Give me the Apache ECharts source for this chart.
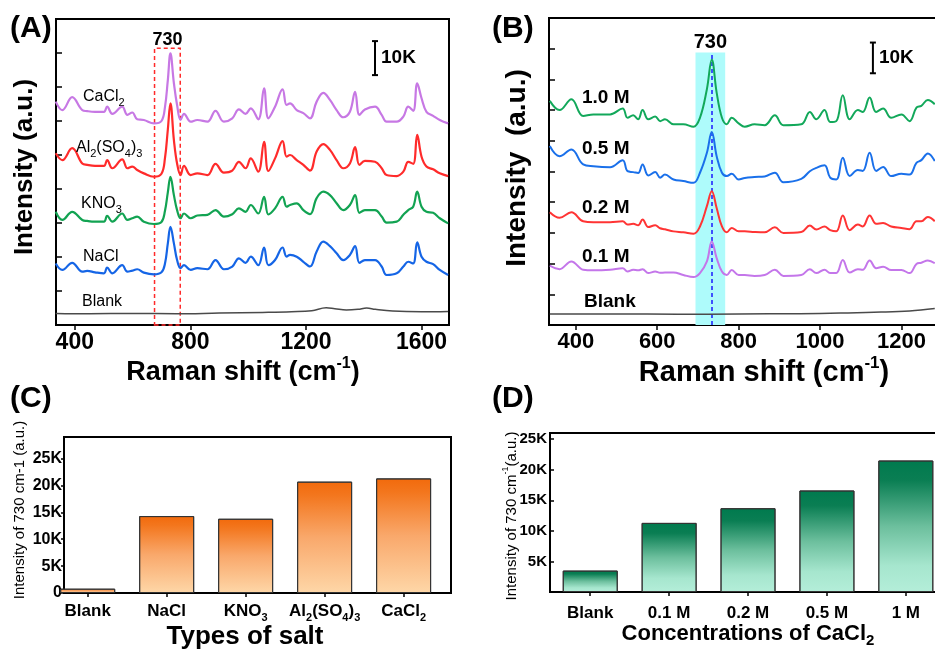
<!DOCTYPE html>
<html>
<head>
<meta charset="utf-8">
<script src="https://cdn.jsdelivr.net/npm/echarts@6/dist/echarts.min.js"></script>
<style>
html, body { margin: 0; padding: 0; background: #fff; }
#main { width: 935px; height: 653px; }
</style>
</head>
<body>
<div id="main"></div>
<script>
// (A) spectra of the different salts, intensities in K counts
const ramanA = [334, 357, 391, 426, 443, 470, 501, 512, 530, 564, 582, 599, 616, 639, 674, 700, 712, 722, 731, 743,
    754, 766, 778, 801, 824, 859, 887, 916, 945, 968, 991, 1009, 1035, 1055, 1070, 1093, 1119, 1133, 1145, 1168,
    1191, 1214, 1237, 1260, 1283, 1306, 1329, 1352, 1370, 1385, 1404, 1439, 1462, 1479, 1514, 1537, 1554, 1571, 1585, 1600,
    1617, 1640, 1663, 1692];
const naclA = [18.1, 16.2, 18.3, 15.7, 15.9, 15.5, 15.2, 16.9, 15.2, 17.6, 15.7, 16.0, 16.4, 15.4, 14.9, 15.5, 18.0, 24.0, 28.9, 24.0,
    19.1, 16.7, 17.6, 16.2, 16.7, 16.4, 19.1, 16.4, 17.2, 19.6, 18.3, 20.1, 17.6, 22.8, 17.6, 19.1, 22.8, 20.1, 20.6, 20.1,
    18.6, 17.2, 21.6, 24.5, 23.2, 21.1, 19.1, 20.6, 23.2, 18.3, 19.1, 19.1, 17.2, 14.7, 15.2, 17.2, 18.6, 18.1, 24.3, 20.1,
    18.6, 17.9, 16.2, 14.7];
const kno3A = [33.3, 30.9, 33.3, 30.9, 30.6, 30.4, 30.4, 32.1, 30.4, 32.8, 30.9, 31.4, 31.9, 30.4, 29.7, 30.3, 33.5, 39.0, 43.6, 38.2,
    33.8, 31.4, 32.8, 31.4, 32.2, 32.4, 33.8, 31.9, 32.6, 34.3, 33.3, 35.3, 32.8, 37.7, 32.5, 34.3, 37.7, 34.8, 35.3, 35.8,
    33.8, 32.6, 37.3, 39.2, 38.2, 35.8, 33.8, 35.3, 38.2, 33.0, 33.8, 33.8, 31.9, 30.1, 30.4, 32.4, 33.8, 34.8, 39.2, 34.8,
    33.3, 33.0, 31.4, 29.9];
const alsoA = [50.5, 48.5, 52.0, 47.5, 47.1, 46.8, 46.8, 48.5, 46.1, 48.7, 46.1, 46.6, 45.6, 44.6, 43.6, 44.5, 49.0, 57.5, 65.2, 54.4,
    47.5, 44.1, 46.8, 44.1, 44.6, 44.1, 47.4, 44.8, 45.4, 48.0, 46.1, 49.0, 45.1, 53.9, 45.3, 49.0, 54.1, 49.5, 50.0, 48.5,
    47.1, 45.4, 51.0, 53.2, 51.5, 48.5, 46.1, 47.5, 52.3, 47.1, 48.3, 48.0, 46.1, 44.1, 43.8, 45.1, 48.0, 47.4, 55.9, 49.5,
    46.6, 45.8, 44.6, 43.8];
const cacl2A = [65.7, 63.2, 67.0, 63.2, 62.9, 62.7, 62.7, 64.2, 62.1, 64.2, 61.8, 62.5, 60.5, 60.3, 59.3, 60.0, 64.0, 72.0, 79.9, 71.1,
    64.7, 60.3, 62.1, 59.8, 60.3, 59.8, 63.0, 59.8, 60.8, 63.4, 62.1, 63.7, 60.5, 69.6, 60.8, 64.2, 69.3, 64.7, 65.2, 63.2,
    62.3, 60.8, 65.7, 68.3, 66.2, 63.2, 61.1, 62.7, 68.6, 61.8, 63.4, 64.2, 61.8, 59.8, 59.8, 61.3, 64.2, 63.0, 71.1, 66.7,
    62.7, 61.5, 60.3, 59.3];
const blankShiftA = [334, 450, 600, 750, 900, 1050, 1150, 1220, 1270, 1300, 1340, 1380, 1410, 1440, 1500, 1600, 1692];
const blankA = [3.4, 3.3, 3.4, 3.3, 3.5, 3.7, 3.9, 4.2, 5.1, 4.8, 4.4, 4.6, 5.0, 4.6, 4.1, 3.9, 4.0];

// (B) spectra for the CaCl2 concentrations
const ramanB = [336, 360, 389, 418, 443, 484, 515, 527, 541, 553, 564, 578, 595, 607, 619, 640, 664, 689, 705, 722,
    734, 746, 759, 771, 783, 800, 815, 839, 864, 889, 910, 954, 975, 991, 1011, 1025, 1040, 1056, 1073, 1093,
    1105, 1122, 1138, 1155, 1175, 1200, 1220, 1237, 1249, 1265, 1282];
const m10B = [73.0, 70.0, 73.5, 68.1, 68.6, 68.6, 70.5, 67.5, 68.3, 67.0, 70.0, 67.0, 67.9, 66.4, 67.0, 65.4, 65.4, 64.6, 67.5, 76.8,
    86.4, 75.7, 67.5, 65.4, 67.5, 65.7, 64.6, 65.4, 65.1, 68.3, 65.1, 65.4, 69.4, 67.0, 70.0, 66.1, 66.4, 74.8, 67.0, 70.0,
    69.4, 74.1, 69.4, 70.5, 67.5, 68.6, 66.4, 70.8, 71.4, 73.3, 71.9];
const m05B = [58.3, 55.0, 57.2, 52.3, 51.7, 51.4, 53.7, 50.1, 49.8, 49.5, 52.3, 48.7, 49.8, 48.0, 49.0, 47.4, 46.9, 46.3, 49.6, 56.1,
    62.9, 55.0, 49.6, 48.5, 49.3, 47.4, 47.9, 48.2, 48.4, 49.6, 46.5, 47.6, 50.1, 51.2, 52.0, 48.0, 47.4, 54.5, 48.5, 50.5,
    50.2, 56.1, 50.2, 51.5, 48.5, 49.3, 49.0, 52.8, 53.7, 55.9, 53.4];
const m02B = [36.7, 34.9, 36.7, 33.8, 33.5, 33.5, 33.8, 32.7, 33.0, 32.5, 34.4, 31.9, 32.5, 31.5, 31.2, 30.5, 30.2, 29.7, 32.1, 38.7,
    43.6, 38.1, 32.1, 30.2, 31.6, 30.5, 30.5, 30.3, 30.2, 31.8, 30.0, 30.3, 32.4, 31.1, 32.1, 30.9, 30.5, 35.7, 30.9, 32.7,
    32.1, 35.7, 33.0, 33.2, 32.1, 31.6, 31.2, 33.8, 33.8, 35.2, 33.8];
const m01B = [19.3, 18.2, 20.7, 18.0, 17.8, 18.0, 18.5, 17.4, 18.0, 17.8, 18.2, 16.9, 17.4, 17.0, 17.1, 17.1, 16.3, 15.6, 16.9, 20.7,
    27.2, 21.8, 17.4, 16.3, 17.9, 16.3, 16.3, 16.0, 16.3, 18.0, 16.0, 16.3, 18.2, 16.9, 18.0, 16.9, 16.9, 21.2, 17.1, 18.2,
    18.0, 21.0, 18.5, 19.0, 17.9, 17.9, 16.9, 19.9, 20.3, 21.0, 20.1];
const blankShiftB = [336, 500, 650, 800, 950, 1050, 1150, 1220, 1282];
const blankB = [3.6, 3.6, 3.5, 3.6, 3.7, 3.9, 4.2, 4.6, 5.4];

// (C) and (D) 730 cm-1 intensities
const saltNames = ['Blank', 'NaCl', 'KNO3', 'Al2(SO4)3', 'CaCl2'];
const saltPeak = [0.8, 14.3, 13.8, 20.7, 21.3];
const concNames = ['Blank', '0.1 M', '0.2 M', '0.5 M', '1 M'];
const concPeak = [3.5, 11.3, 13.7, 16.6, 21.5];

const FONT = '"Liberation Sans", Arial, sans-serif';

function pairs(xs, ys) {
    return xs.map((x, i) => [x, ys[i]]);
}

// digits of a formula become subscript tokens
function chem(s, m, d) {
    return s.replace(/(\D+)|(\d+)/g, (t, a, b) => a ? '{' + m + '|' + a + '}' : '{' + d + '|' + b + '}');
}

function richFor(size, weight) {
    return {
        m: { fontSize: size, fontWeight: weight, fontFamily: FONT, color: '#000', lineHeight: size + 7 },
        d: { fontSize: Math.round(size * 0.66), fontWeight: weight, fontFamily: FONT, color: '#000',
             lineHeight: Math.round(size * 0.66), verticalAlign: 'bottom' },
        u: { fontSize: Math.round(size * 0.6), fontWeight: weight, fontFamily: FONT, color: '#000',
             lineHeight: Math.round(size * 0.6), verticalAlign: 'top' }
    };
}

function txt(x, y, text, size, opts) {
    opts = opts || {};
    const weight = opts.weight || 'normal';
    const rich = richFor(size, weight);
    if (opts.color) {
        rich.m.color = opts.color; rich.d.color = opts.color; rich.u.color = opts.color;
    }
    return {
        type: 'text', x: x, y: y, rotation: opts.rot || 0, silent: true, z: 20,
        style: {
            text: text, rich: rich,
            textAlign: opts.align || 'left', textVerticalAlign: 'middle'
        }
    };
}

function lineSeries(name, xs, ys, xi, color, width) {
    return {
        name: name, type: 'line', xAxisIndex: xi, yAxisIndex: xi,
        data: pairs(xs, ys), showSymbol: false, smooth: 0.4, z: 5,
        lineStyle: { color: color, width: width }
    };
}

function barGradient(stops) {
    return new echarts.graphic.LinearGradient(0, 0, 0, 1, stops.map(c => ({ offset: c[0], color: c[1] })));
}

const axisLine = { show: true, onZero: false, lineStyle: { color: '#000', width: 2 } };
const gridBox = { show: true, borderColor: '#000', borderWidth: 2, outerBoundsMode: 'none', containLabel: false };
const plainNum = v => String(v);

var dom = document.getElementById('main');
var myChart = echarts.init(dom, null, { renderer: 'canvas' });

var option = {
    animation: false,
    backgroundColor: '#fff',
    grid: [
        Object.assign({ left: 56, top: 19, width: 393, height: 306 }, gridBox),
        Object.assign({ left: 549, top: 18, width: 400, height: 307 }, gridBox),
        Object.assign({ left: 64, top: 437, width: 387, height: 156 }, gridBox),
        Object.assign({ left: 550, top: 433, width: 400, height: 159 }, gridBox)
    ],
    xAxis: [
        {
            type: 'value', gridIndex: 0, min: 335, max: 1695, axisLine: axisLine, splitLine: { show: false },
            axisTick: { customValues: [400, 800, 1200, 1600], length: 5, lineStyle: { width: 1.5, color: '#000' } },
            axisLabel: { customValues: [400, 800, 1200, 1600], formatter: plainNum, fontSize: 23, fontWeight: 'bold', color: '#000', fontFamily: FONT, margin: 6 }
        },
        {
            type: 'value', gridIndex: 1, min: 334, max: 1317, axisLine: axisLine, splitLine: { show: false },
            axisTick: { customValues: [400, 600, 800, 1000, 1200], length: 5, lineStyle: { width: 1.5, color: '#000' } },
            axisLabel: { customValues: [400, 600, 800, 1000, 1200], formatter: plainNum, fontSize: 22, fontWeight: 'bold', color: '#000', fontFamily: FONT, margin: 6 }
        },
        {
            type: 'value', gridIndex: 2, min: -0.3, max: 4.6, axisLine: axisLine, splitLine: { show: false },
            axisTick: { customValues: [0, 1, 2, 3, 4], length: 4, lineStyle: { width: 1.5, color: '#000' } },
            axisLabel: {
                customValues: [0, 1, 2, 3, 4], margin: 6,
                formatter: v => chem(saltNames[Math.round(v)], 'm', 'd'),
                rich: richFor(17, 'bold')
            }
        },
        {
            type: 'value', gridIndex: 3, min: -0.51, max: 4.56, axisLine: axisLine, splitLine: { show: false },
            axisTick: { customValues: [0, 1, 2, 3, 4], length: 4, lineStyle: { width: 1.5, color: '#000' } },
            axisLabel: {
                customValues: [0, 1, 2, 3, 4], margin: 9,
                formatter: v => '{m|' + concNames[Math.round(v)] + '}',
                rich: richFor(17, 'bold')
            }
        }
    ],
    yAxis: [
        {
            type: 'value', gridIndex: 0, min: 0, max: 90, interval: 10, axisLine: axisLine, splitLine: { show: false },
            axisTick: { inside: true, length: 6, lineStyle: { width: 1.5, color: '#000' } }, axisLabel: { show: false }
        },
        {
            type: 'value', gridIndex: 1, min: 0, max: 100, interval: 10, axisLine: axisLine, splitLine: { show: false },
            axisTick: { inside: true, length: 6, lineStyle: { width: 1.5, color: '#000' } }, axisLabel: { show: false }
        },
        {
            type: 'value', gridIndex: 2, min: 0, max: 29, interval: 5, axisLine: axisLine, splitLine: { show: false },
            axisTick: { length: 3, lineStyle: { width: 1.5, color: '#000' } },
            axisLabel: { fontSize: 16, fontWeight: 'bold', color: '#000', fontFamily: FONT, margin: 2, showMaxLabel: false,
                formatter: v => v === 0 ? '0' : v + 'K' }
        },
        {
            type: 'value', gridIndex: 3, min: 0, max: 26, interval: 5, axisLine: axisLine, splitLine: { show: false },
            axisTick: { inside: true, length: 4, lineStyle: { width: 1.5, color: '#000' } },
            axisLabel: { fontSize: 15, fontWeight: 'bold', color: '#000', fontFamily: FONT, margin: 3, showMaxLabel: false,
                formatter: v => v === 0 ? '' : v + 'K' }
        }
    ],
    series: [
        Object.assign(lineSeries('Blank A', blankShiftA, blankA, 0, '#4a4a4a', 1.5), {
            markArea: {
                silent: true,
                itemStyle: { color: 'rgba(0,0,0,0)', borderColor: '#ff2a2a', borderWidth: 1.5, borderType: [4, 3] },
                label: { show: true, position: 'top', distance: -2, formatter: '730', fontSize: 18, fontWeight: 'bold', color: '#000', fontFamily: FONT },
                data: [[{ xAxis: 676, yAxis: 0 }, { xAxis: 765, yAxis: 81.4 }]]
            }
        }),
        lineSeries('NaCl', ramanA, naclA, 0, '#1565e6', 2.2),
        lineSeries('KNO3', ramanA, kno3A, 0, '#12a352', 2.2),
        lineSeries('Al2(SO4)3', ramanA, alsoA, 0, '#ff2b2b', 2.2),
        lineSeries('CaCl2', ramanA, cacl2A, 0, '#c778e4', 2.2),
        Object.assign(lineSeries('Blank B', blankShiftB, blankB, 1, '#4a4a4a', 1.5), {
            markArea: {
                silent: true,
                itemStyle: { color: '#aefbfb' },
                label: { show: true, position: 'top', distance: 0, formatter: '730', fontSize: 20, fontWeight: 'bold', color: '#000', fontFamily: FONT },
                data: [[{ xAxis: 694, yAxis: 0 }, { xAxis: 767, yAxis: 88.8 }]]
            },
            markLine: {
                silent: true, symbol: 'none', label: { show: false },
                lineStyle: { color: '#1a1aff', width: 1.5, type: [4, 3] },
                data: [[{ coord: [734, 0] }, { coord: [734, 88.8] }]]
            }
        }),
        lineSeries('0.1 M', ramanB, m01B, 1, '#c476ea', 2),
        lineSeries('0.2 M', ramanB, m02B, 1, '#ff3434', 2),
        lineSeries('0.5 M', ramanB, m05B, 1, '#1a70ea', 2),
        lineSeries('1.0 M', ramanB, m10B, 1, '#12a85a', 2),
        {
            name: 'salt', type: 'bar', xAxisIndex: 2, yAxisIndex: 2, barWidth: 55,
            data: pairs([0, 1, 2, 3, 4], saltPeak),
            itemStyle: {
                borderColor: '#333', borderWidth: 1,
                color: barGradient([[0, '#f26a0c'], [0.12, '#f3761d'], [0.5, '#f9a86b'], [1, '#fed7a8']])
            }
        },
        {
            name: 'conc', type: 'bar', xAxisIndex: 3, yAxisIndex: 3, barWidth: 55,
            data: pairs([0, 1, 2, 3, 4], concPeak),
            itemStyle: {
                borderColor: '#333', borderWidth: 1,
                color: barGradient([[0, '#007a4e'], [0.15, '#0a7e53'], [0.5, '#6cbf9d'], [0.8, '#a6e6ce'], [1, '#b4eed9']])
            }
        }
    ],
    graphic: [
        txt(10, 29, '{m|(A)}', 30, { weight: 'bold' }),
        txt(492, 29, '{m|(B)}', 30, { weight: 'bold' }),
        txt(10, 399, '{m|(C)}', 30, { weight: 'bold' }),
        txt(492, 399, '{m|(D)}', 30, { weight: 'bold' }),

        txt(25, 167, '{m|Intensity (a.u.)}', 26, { weight: 'bold', rot: Math.PI / 2, align: 'center' }),
        txt(517, 168, '{m|Intensity  (a.u.)}', 28, { weight: 'bold', rot: Math.PI / 2, align: 'center' }),
        txt(243, 373, '{m|Raman shift (cm}{u|-1}{m|)}', 27, { weight: 'bold', align: 'center' }),
        txt(764, 373, '{m|Raman shift (cm}{u|-1}{m|)}', 29, { weight: 'bold', align: 'center' }),

        txt(83, 97, chem('CaCl2', 'm', 'd'), 16, { color: '#222' }),
        txt(76, 148, chem('Al2(SO4)3', 'm', 'd'), 16, { color: '#222' }),
        txt(81, 204, chem('KNO3', 'm', 'd'), 16, { color: '#222' }),
        txt(83, 257, '{m|NaCl}', 16, { color: '#222' }),
        txt(82, 302, '{m|Blank}', 16, { color: '#333' }),

        txt(582, 98, '{m|1.0 M}', 19, { weight: 'bold', color: '#2f9a2a' }),
        txt(582, 149, '{m|0.5 M}', 19, { weight: 'bold', color: '#1a55a8' }),
        txt(582, 208, '{m|0.2 M}', 19, { weight: 'bold', color: '#e8221c' }),
        txt(582, 257, '{m|0.1 M}', 19, { weight: 'bold', color: '#8e1a8e' }),
        txt(584, 302, '{m|Blank}', 19, { weight: 'bold', color: '#404040' }),

        txt(20, 510, '{m|Intensity of 730 cm-1 (a.u.)}', 15, { rot: Math.PI / 2, align: 'center' }),
        txt(245, 637, '{m|Types of salt}', 26, { weight: 'bold', align: 'center' }),
        txt(512, 516, '{m|Intensity of 730 cm}{u|-1}{m|(a.u.)}', 15, { rot: Math.PI / 2, align: 'center' }),
        txt(748, 634, chem('Concentrations of CaCl2', 'm', 'd'), 22, { weight: 'bold', align: 'center' })
    ]
};

myChart.setOption(option);

// 10K scale bars placed through the axes' own scales
function scaleBar(gi, xv, y0, y1) {
    const a = myChart.convertToPixel({ gridIndex: gi }, [xv, y0]);
    const b = myChart.convertToPixel({ gridIndex: gi }, [xv, y1]);
    const st = { stroke: '#000', lineWidth: 2 };
    return [
        { type: 'line', shape: { x1: a[0], y1: a[1], x2: b[0], y2: b[1] }, style: st, z: 20 },
        { type: 'line', shape: { x1: a[0] - 3, y1: a[1], x2: a[0] + 3, y2: a[1] }, style: st, z: 20 },
        { type: 'line', shape: { x1: b[0] - 3, y1: b[1], x2: b[0] + 3, y2: b[1] }, style: st, z: 20 },
        txt(a[0] + 6, (a[1] + b[1]) / 2, '{m|10K}', 19, { weight: 'bold' })
    ];
}

myChart.setOption({
    graphic: option.graphic.concat(scaleBar(0, 1439, 73.5, 83.5), scaleBar(1, 1130, 82, 92))
});

window.addEventListener('resize', myChart.resize);
</script>
</body>
</html>
